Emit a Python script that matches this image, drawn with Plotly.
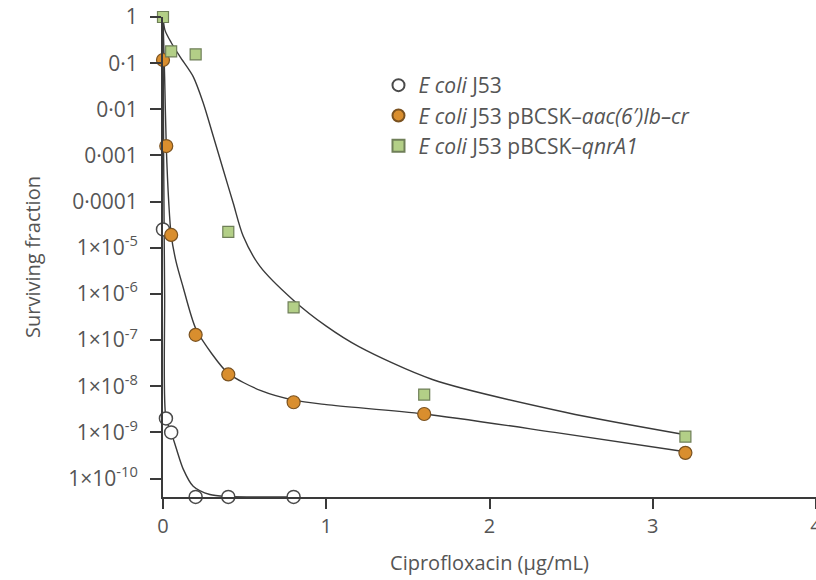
import plotly.graph_objects as go

# Measured survivors (ciprofloxacin µg/mL vs surviving fraction)
j53_x = [0, 0.018, 0.05, 0.2, 0.4, 0.8]
j53_y = [2.5e-5, 2.0e-9, 1.0e-9, 4.0e-11, 4.0e-11, 4.0e-11]

aac_x = [0, 0.02, 0.05, 0.2, 0.4, 0.8, 1.6, 3.2]
aac_y = [0.117, 1.6e-3, 1.9e-5, 1.3e-7, 1.8e-8, 4.5e-9, 2.5e-9, 3.6e-10]

qnr_x = [0, 0.05, 0.2, 0.4, 0.8, 1.6, 3.2]
qnr_y = [1.0, 0.18, 0.155, 2.2e-5, 5.1e-7, 6.6e-9, 8.1e-10]

# Fitted kill curves
j53_fit_x = [0, 0.004, 0.01, 0.018, 0.05, 0.083, 0.124, 0.185, 0.287, 0.4, 0.8]
j53_fit_y = [1.0, 1e-3, 1e-6, 2.0e-9, 1.0e-9, 4.3e-10, 1.6e-10, 6.8e-11, 4.5e-11, 4.1e-11, 4.0e-11]

aac_fit_x = [0, 0.01, 0.02, 0.035, 0.05, 0.08, 0.122, 0.2, 0.3, 0.4, 0.6, 0.8, 1.0, 1.6, 2.4, 3.2]
aac_fit_y = [1.0, 0.05, 1.6e-3, 1.0e-4, 1.9e-5, 5.0e-6, 1.45e-6, 1.8e-7, 5.0e-8, 1.9e-8, 8.0e-9, 5.0e-9, 4.0e-9, 2.5e-9, 1.0e-9, 3.8e-10]

qnr_fit_x = [0, 0.012, 0.05, 0.104, 0.185, 0.247, 0.308, 0.369, 0.43, 0.491, 0.593, 0.797, 1.0, 1.2, 1.65, 2.47, 3.2]
qnr_fit_y = [1.0, 0.52, 0.28, 0.138, 0.051, 0.0135, 2.6e-3, 4.9e-4, 9.3e-5, 1.8e-5, 4.0e-6, 7.4e-7, 2.0e-7, 7.2e-8, 1.4e-8, 2.7e-9, 8.9e-10]

y_tickvals = [1, 0.1, 0.01, 0.001, 0.0001, 1e-5, 1e-6, 1e-7, 1e-8, 1e-9, 1e-10]
y_ticktext = ["1", "0·1", "0·01", "0·001", "0·0001",
              "1×10<sup>-5</sup>", "1×10<sup>-6</sup>", "1×10<sup>-7</sup>",
              "1×10<sup>-8</sup>", "1×10<sup>-9</sup>", "1×10<sup>-10</sup>"]
x_tickvals = [0, 1, 2, 3, 4]

names = ["<i>E coli</i> J53",
         "<i>E coli</i> J53 pBCSK–<i>aac(6′)Ib–cr</i>",
         "<i>E coli</i> J53 pBCSK–<i>qnrA1</i>"]

line_col = "#3a3a3a"
font_family = "Open Sans"
text_col = "#555555"
fs = 20

fig = go.Figure()

for fx, fy in [(j53_fit_x, j53_fit_y), (aac_fit_x, aac_fit_y), (qnr_fit_x, qnr_fit_y)]:
    fig.add_trace(go.Scatter(
        x=fx, y=fy, mode="lines", showlegend=False, hoverinfo="skip",
        line=dict(color=line_col, width=1.4, shape="spline", smoothing=0.8),
        cliponaxis=False,
    ))

fig.add_trace(go.Scatter(
    x=j53_x, y=j53_y, mode="markers", name=names[0],
    marker=dict(symbol="circle", size=13, color="white",
                line=dict(color="#4a4a4a", width=1.5)),
    cliponaxis=False,
))
fig.add_trace(go.Scatter(
    x=aac_x, y=aac_y, mode="markers", name=names[1],
    marker=dict(symbol="circle", size=13, color="#D98E2E",
                line=dict(color="#7a5220", width=1.2)),
    cliponaxis=False,
))
fig.add_trace(go.Scatter(
    x=qnr_x, y=qnr_y, mode="markers", name=names[2],
    marker=dict(symbol="square", size=11, color="#B3CF87",
                line=dict(color="#6f7f58", width=1.2)),
    cliponaxis=False,
))

fig.update_layout(
    width=816, height=580,
    margin=dict(l=163, r=0, t=17, b=83),
    paper_bgcolor="white", plot_bgcolor="white",
    font=dict(family=font_family, size=fs, color=text_col),
    legend=dict(
        x=0.33, y=0.9, xanchor="left", yanchor="top",
        font=dict(family=font_family, size=21, color=text_col),
        bgcolor="rgba(0,0,0,0)", itemsizing="constant",
    ),
    xaxis=dict(
        range=[0, 4], tickvals=x_tickvals, ticktext=[str(v) for v in x_tickvals],
        showgrid=False, zeroline=False, showline=True, linecolor=line_col, linewidth=2,
        ticks="outside", ticklen=10, tickwidth=1.5, tickcolor=line_col,
        ticklabelstandoff=0, ticklabeloverflow="allow", automargin=False,
        tickfont=dict(family=font_family, size=fs, color=text_col),
        title=dict(text="Ciprofloxacin (µg/mL)", standoff=18,
                   font=dict(family=font_family, size=fs, color=text_col)),
    ),
    yaxis=dict(
        type="log", range=[-10.4, 0],
        tickvals=y_tickvals, ticktext=y_ticktext,
        showgrid=False, zeroline=False, showline=True, linecolor=line_col, linewidth=2,
        ticks="outside", ticklen=11, tickwidth=1.5, tickcolor=line_col,
        ticklabelstandoff=8, automargin=False,
        tickfont=dict(family=font_family, size=21, color=text_col),
        title=dict(text="Surviving fraction", standoff=22,
                   font=dict(family=font_family, size=fs, color=text_col)),
    ),
)

fig.write_html("out.html")
